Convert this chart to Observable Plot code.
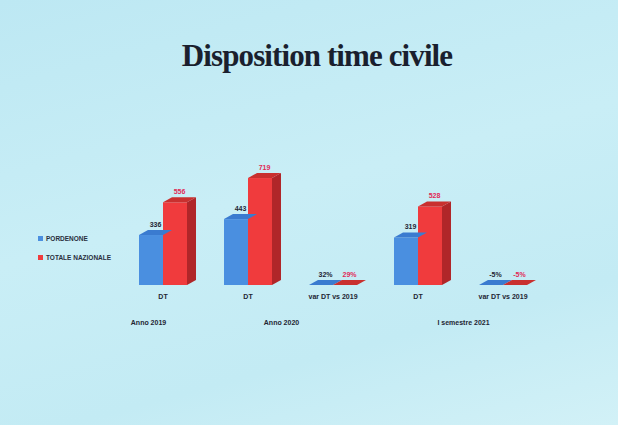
<!DOCTYPE html>
<html><head><meta charset="utf-8">
<script src="https://cdn.jsdelivr.net/npm/d3@7"></script>
<script src="https://cdn.jsdelivr.net/npm/@observablehq/plot@0.6"></script>
<style>
html,body{margin:0;padding:0;}
#page{position:relative;width:618px;height:425px;overflow:hidden;
 background:linear-gradient(165deg,#bde8f3 0%,#c9eef6 45%,#c3ebf4 75%,#d2f1f7 100%);}
#title{position:absolute;left:8px;top:38px;width:618px;text-align:center;
 font-family:"Liberation Serif","DejaVu Serif",serif;font-weight:bold;font-size:31px;color:#1a1f2e;letter-spacing:-0.9px;}
#chart{position:absolute;left:0;top:95px;}
#legend{position:absolute;left:38px;top:229px;font-family:"Liberation Sans",Arial,sans-serif;font-weight:bold;font-size:6.5px;color:#2a2f3d;}
#legend div{height:19px;display:flex;align-items:center;}
#legend span.sw{display:inline-block;width:5px;height:5px;margin-right:3px;}
</style></head>
<body><div id="page"><div id="title">Disposition time civile</div><div id="chart"></div><div id="legend"></div></div>
<script>
const keys = ["DT 2019","DT 2020","var 2020","DT 2021","var 2021"];
const categories = ["DT","DT","var DT vs 2019","DT","var DT vs 2019"];
const groupLabels = ["Anno 2019","Anno 2020","I semestre 2021"];
const groupAnchor = ["DT 2019","DT 2020","DT 2021"];
const series = ["PORDENONE","TOTALE NAZIONALE"];
const pordenone = [336, 443, 0.32, 319, -0.05];
const totale = [556, 719, 0.29, 528, -0.05];
const colors = ["#4a8fe0","#f03b3d"];

const data = [];
keys.forEach((k,i)=>{
  data.push({key:k, s:series[0], v:pordenone[i]});
  data.push({key:k, s:series[1], v:totale[i]});
});
const fmt = v => Math.abs(v) < 1 ? Math.round(v*100) + "%" : String(v);
const shade = {"#4a8fe0":{top:"#3a7bd0",side:"#2f66b0"},"#f03b3d":{top:"#c9302f",side:"#b02629"}};

function render3d(index, scales, values, dims, ctx, next){
  const g = next(index, scales, values, dims, ctx);
  const ns = "http://www.w3.org/2000/svg";
  const d = 9, dy = 5;
  const rects = Array.from(g.querySelectorAll("rect"));
  rects.forEach(r=>{
    const x = +r.getAttribute("x"), y = +r.getAttribute("y");
    const w = +r.getAttribute("width"), h = +r.getAttribute("height");
    const f = r.getAttribute("fill");
    const sh = shade[f] || {top:f, side:f};
    const side = document.createElementNS(ns,"polygon");
    side.setAttribute("points",`${x+w},${y} ${x+w+d},${y-dy} ${x+w+d},${y+h-dy} ${x+w},${y+h}`);
    side.setAttribute("fill",sh.side);
    const top = document.createElementNS(ns,"polygon");
    top.setAttribute("points",`${x},${y} ${x+d},${y-dy} ${x+w+d},${y-dy} ${x+w},${y}`);
    top.setAttribute("fill",sh.top);
    r.parentNode.insertBefore(side, r);
    r.parentNode.appendChild(top);
  });
  return g;
}

const groupOffsets = [-3, 45, 57];
const groupMarks = groupLabels.map((lab,i) =>
  Plot.text([lab], {fx: () => groupAnchor[i], x: () => series[0], y: () => 0, text: d => d,
    dx: groupOffsets[i], dy: 37, fontSize: 7, fontWeight: "bold", fill: "#1f2633"}));

const labFont = "Liberation Sans, Arial, sans-serif";
const chart = Plot.plot({
  width: 618, height: 250,
  marginLeft: 120, marginRight: 73, marginTop: 10, marginBottom: 60,
  style: {background: "transparent", fontFamily: labFont, overflow: "visible"},
  fx: {domain: keys, padding: 0, label: null, axis: "bottom", tickSize: 0, tickPadding: 9,
       tickFormat: k => categories[keys.indexOf(k)]},
  x: {domain: series, paddingInner: 0, paddingOuter: 0.77, axis: null},
  y: {domain: [0, 1210], axis: null},
  color: {domain: series, range: colors},
  marks: [
    Plot.barY(data, {fx: "key", x: "s", y: "v", fill: "s", render: render3d}),
    Plot.text(data, {fx: "key", x: "s", y: d => Math.max(d.v,0), text: d => fmt(d.v), dx: 4, dy: -11,
      fill: d => d.s === series[0] ? "#1f2633" : "#e02a55", fontSize: 7, fontWeight: "bold"}),
    ...groupMarks
  ]
});
chart.querySelectorAll("g[aria-label='fx-axis tick label']").forEach(e=>{
  e.setAttribute("font-weight","bold"); e.setAttribute("font-size","7"); e.setAttribute("fill","#1f2633");
});
document.getElementById("chart").appendChild(chart);

const leg = document.getElementById("legend");
series.forEach((s,i)=>{
  const row = document.createElement("div");
  row.innerHTML = `<span class="sw" style="background:${colors[i]}"></span>${s}`;
  leg.appendChild(row);
});
</script></body></html>
